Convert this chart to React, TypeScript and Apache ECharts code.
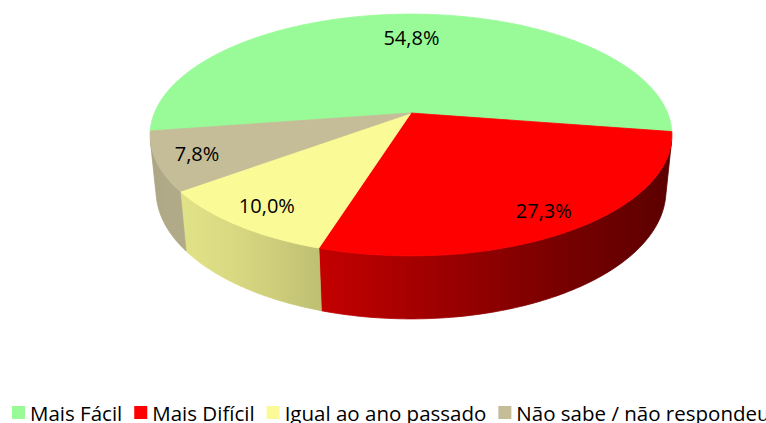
import React, { useEffect, useRef } from "react";
import * as echarts from "echarts";

// ---- data ----
const categories = ["Mais Fácil", "Mais Difícil", "Igual ao ano passado", "Não sabe / não respondeu"];
const values = [54.8, 27.3, 10.0, 7.8];
const colors = ["#98FB98", "#FF0000", "#FAFA96", "#C4BD97"];

const FONT = "'Open Sans', 'Noto Sans', sans-serif";

// ---- 3D pie view (perspective) ----
const CX = 411;
const CY = 113;
const SCALE = 256.6;
const DIST = 4.9;
const TILT = (27.1 * Math.PI) / 180;
const DEPTH = 0.2466;
const START = 171.4; // degrees, clockwise on screen
const LIGHT = 145;
const LABEL_R = 0.85;
const LABEL_EDGE_GAP = 23;

function project(thetaDeg: number, r: number, y: number): [number, number] {
  const t = (thetaDeg * Math.PI) / 180;
  const X = r * Math.cos(t);
  const Z = r * Math.sin(t);
  const s = Math.sin(TILT);
  const c = Math.cos(TILT);
  const d = DIST - y * s - Z * c;
  const v = y * c - Z * s;
  const F = SCALE * DIST;
  return [CX + (F * X) / d, CY - (F * v) / d];
}

function hexToRgb(h: string) {
  const n = parseInt(h.slice(1), 16);
  return [(n >> 16) & 255, (n >> 8) & 255, n & 255];
}
function shade(h: string, f: number) {
  const [r, g, b] = hexToRgb(h);
  const cl = (x: number) => Math.max(0, Math.min(255, Math.round(x * f)));
  return `rgb(${cl(r)},${cl(g)},${cl(b)})`;
}
function lightFactor(theta: number) {
  const dl = ((theta - LIGHT) * Math.PI) / 180;
  return 0.35 + 0.55 * Math.pow((1 + Math.cos(dl)) / 2, 2.5);
}

const total = values.reduce((a, b) => a + b, 0);
const slices = (() => {
  let acc = START;
  return values.map((v) => {
    const a = acc;
    const b = acc + (v / total) * 360;
    acc = b;
    return { a, b };
  });
})();

const visMin = (Math.asin(1 / (DIST * Math.cos(TILT))) * 180) / Math.PI;
const visMax = 180 - visMin;

function visibleWall(a: number, b: number): [number, number][] {
  const out: [number, number][] = [];
  for (let k = -2; k <= 2; k++) {
    const lo = Math.max(a, visMin + 360 * k);
    const hi = Math.min(b, visMax + 360 * k);
    if (hi > lo) out.push([lo, hi]);
  }
  return out;
}

function sampleAngles(a: number, b: number) {
  const n = Math.max(2, Math.ceil((b - a) / 1));
  const arr: number[] = [];
  for (let i = 0; i <= n; i++) arr.push(a + ((b - a) * i) / n);
  return arr;
}

function labelPos(mid: number): [number, number] {
  const edge = project(mid, 1, 0);
  let r = LABEL_R;
  let p = project(mid, r, 0);
  while (r > 0.3 && Math.hypot(edge[0] - p[0], edge[1] - p[1]) < LABEL_EDGE_GAP) {
    r -= 0.005;
    p = project(mid, r, 0);
  }
  return p;
}

function makeRenderItem(i: number) {
  return (_params: any, api: any) => {
    const val = api.value(0);
    const { a, b } = slices[i];
    const color = colors[i];
    const children: any[] = [];

    visibleWall(a, b).forEach(([w0, w1]) => {
      const angs = sampleAngles(w0, w1);
      const pts: number[][] = [];
      angs.forEach((t) => pts.push(project(t, 1, 0)));
      angs
        .slice()
        .reverse()
        .forEach((t) => pts.push(project(t, 1, -DEPTH)));
      const xs = angs.map((t) => project(t, 1, 0)[0]);
      const x0 = Math.min(...xs);
      const x1 = Math.max(...xs);
      const stops = angs
        .map((t, k) => ({
          offset: x1 > x0 ? (xs[k] - x0) / (x1 - x0) : 0,
          color: shade(color, lightFactor(t)),
        }))
        .sort((p, q) => p.offset - q.offset);
      const grad = new echarts.graphic.LinearGradient(x0, 0, x1, 0, stops, true);
      children.push({
        type: "polygon",
        shape: { points: pts },
        style: { fill: grad, stroke: grad, lineWidth: 0.8 },
        z2: 1,
        silent: true,
      });
    });

    const top: number[][] = [project(0, 0, 0)];
    sampleAngles(a, b).forEach((t) => top.push(project(t, 1, 0)));
    children.push({
      type: "polygon",
      shape: { points: top },
      style: { fill: color, stroke: color, lineWidth: 0.8 },
      z2: 5,
      silent: true,
    });

    const [lx, ly] = labelPos((a + b) / 2);
    children.push({
      type: "text",
      x: lx,
      y: ly,
      style: {
        text: Number(val).toFixed(1).replace(".", ",") + "%",
        fill: "#000",
        fontSize: 20,
        fontFamily: FONT,
        align: "center",
        verticalAlign: "middle",
      },
      z2: 10,
      silent: true,
    });

    return { type: "group", children };
  };
}

export default function App() {
  const ref = useRef<HTMLDivElement>(null);
  useEffect(() => {
    document.body.style.margin = "0";
    if (!ref.current) return;
    const chart = echarts.init(ref.current, null, { renderer: "svg" });
    chart.setOption({
      animation: false,
      backgroundColor: "#fff",
      legend: {
        left: 12,
        top: 402,
        width: 1400,
        padding: 0,
        icon: "rect",
        itemWidth: 13,
        itemHeight: 13,
        itemGap: 12,
        textStyle: { fontSize: 20.5, lineHeight: 20, fontFamily: FONT, color: "#000" },
        data: categories,
      },
      series: categories.map((name, i) => ({
        type: "custom",
        name,
        coordinateSystem: "none",
        itemStyle: { color: colors[i] },
        data: [[values[i]]],
        renderItem: makeRenderItem(i),
      })),
    });
    return () => chart.dispose();
  }, []);
  return <div ref={ref} style={{ width: 766, height: 423 }} />;
}
